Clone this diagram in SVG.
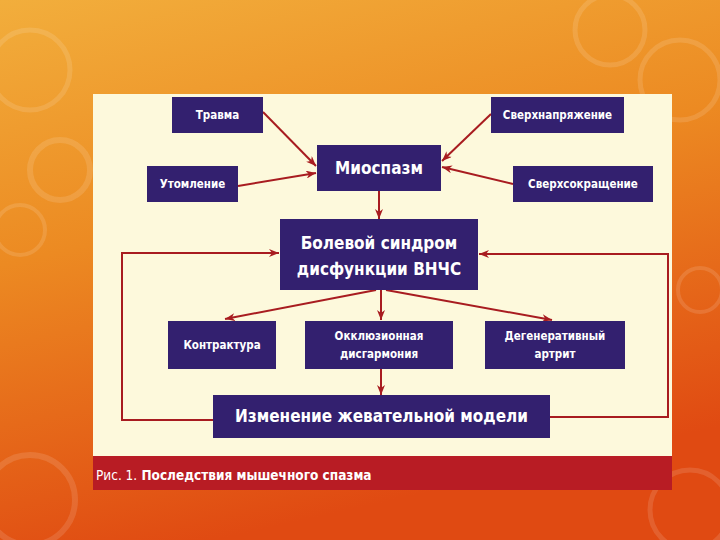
<svg xmlns="http://www.w3.org/2000/svg" width="720" height="540" viewBox="0 0 720 540">
<defs>
<linearGradient id="bg" x1="0" y1="0" x2="0.3" y2="1">
<stop offset="0" stop-color="#f2ae3c"/>
<stop offset="0.45" stop-color="#ec8a22"/>
<stop offset="1" stop-color="#e04a12"/>
</linearGradient>
<marker id="ah" viewBox="0 0 10 8" refX="10" refY="4" markerWidth="10" markerHeight="8" markerUnits="userSpaceOnUse" orient="auto">
<path d="M0,0 L10,4 L0,8 L3,4 Z" fill="#a81c20"/>
</marker>
<style>
.box{fill:#33206f;}
.t{fill:#ffffff;font-family:"DejaVu Sans Condensed","DejaVu Sans",sans-serif;font-weight:bold;text-anchor:middle;}
.s{font-size:11.5px;}
.l{font-size:17px;}
.c{fill:none;stroke:#a81c20;stroke-width:2;}
.ring{fill:none;stroke:#ffffff;stroke-opacity:0.12;}
</style>
</defs>
<rect x="0" y="0" width="720" height="540" fill="url(#bg)"/>
<g id="decor">
<circle class="ring" cx="30" cy="70" r="40" stroke-width="5"/>
<circle class="ring" cx="60" cy="170" r="30" stroke-width="6"/>
<circle class="ring" cx="20" cy="230" r="25" stroke-width="4"/>
<circle class="ring" cx="610" cy="30" r="35" stroke-width="5"/>
<circle class="ring" cx="680" cy="80" r="40" stroke-width="5"/>
<circle class="ring" cx="700" cy="290" r="22" stroke-width="4"/>
<circle class="ring" cx="30" cy="500" r="45" stroke-width="6"/>
<circle class="ring" cx="690" cy="510" r="40" stroke-width="5"/>
</g>
<rect x="93" y="94" width="579" height="362" fill="#fdf9dc"/>
<rect x="93" y="456" width="579" height="34" fill="#b81c24"/>
<text x="96" y="480" font-family="'DejaVu Sans Condensed','DejaVu Sans',sans-serif" font-size="13.5" fill="#ffffff"><tspan>Рис. 1.</tspan><tspan font-weight="bold"> Последствия мышечного спазма</tspan></text>

<g id="connectors">
<line class="c" x1="263" y1="112" x2="316" y2="166" marker-end="url(#ah)"/>
<line class="c" x1="238" y1="186" x2="316" y2="173" marker-end="url(#ah)"/>
<line class="c" x1="491" y1="114" x2="442" y2="161" marker-end="url(#ah)"/>
<line class="c" x1="513" y1="184" x2="442" y2="167" marker-end="url(#ah)"/>
<line class="c" x1="379" y1="191" x2="379" y2="219" marker-end="url(#ah)"/>
<line class="c" x1="376" y1="290" x2="225" y2="319" marker-end="url(#ah)"/>
<line class="c" x1="381" y1="290" x2="381" y2="320" marker-end="url(#ah)"/>
<line class="c" x1="386" y1="290" x2="552" y2="320" marker-end="url(#ah)"/>
<line class="c" x1="381" y1="369" x2="381" y2="395" marker-end="url(#ah)"/>
<polyline class="c" points="213,420 122,420 122,253 279,253" marker-end="url(#ah)"/>
<polyline class="c" points="550,417 668,417 668,254 479,254" marker-end="url(#ah)"/>
</g>

<g id="n-travma"><rect class="box" x="172" y="97" width="91" height="36"/><text class="t s" x="217.5" y="119">Травма</text></g>
<g id="n-sverhnapr"><rect class="box" x="491" y="97" width="133" height="36"/><text class="t s" x="557.5" y="119">Сверхнапряжение</text></g>
<g id="n-utomlenie"><rect class="box" x="147" y="166" width="91" height="36"/><text class="t s" x="192.5" y="188">Утомление</text></g>
<g id="n-miospazm"><rect class="box" x="317" y="145" width="124" height="46"/><text class="t l" x="379" y="174">Миоспазм</text></g>
<g id="n-sverhsokr"><rect class="box" x="513" y="166" width="140" height="36"/><text class="t s" x="583" y="188">Сверхсокращение</text></g>
<g id="n-bolevoy"><rect class="box" x="280" y="219" width="198" height="71"/><text class="t l" x="379" y="249">Болевой синдром</text><text class="t l" x="379" y="275">дисфункции ВНЧС</text></g>
<g id="n-kontraktura"><rect class="box" x="168" y="321" width="108" height="48"/><text class="t s" x="222" y="349">Контрактура</text></g>
<g id="n-okkluz"><rect class="box" x="305" y="321" width="148" height="48"/><text class="t s" x="379" y="340">Окклюзионная</text><text class="t s" x="379" y="358">дисгармония</text></g>
<g id="n-degener"><rect class="box" x="485" y="321" width="140" height="48"/><text class="t s" x="555" y="340">Дегенеративный</text><text class="t s" x="555" y="358">артрит</text></g>
<g id="n-izmenenie"><rect class="box" x="213" y="395" width="337" height="43"/><text class="t l" x="381.5" y="422">Изменение жевательной модели</text></g>
</svg>
